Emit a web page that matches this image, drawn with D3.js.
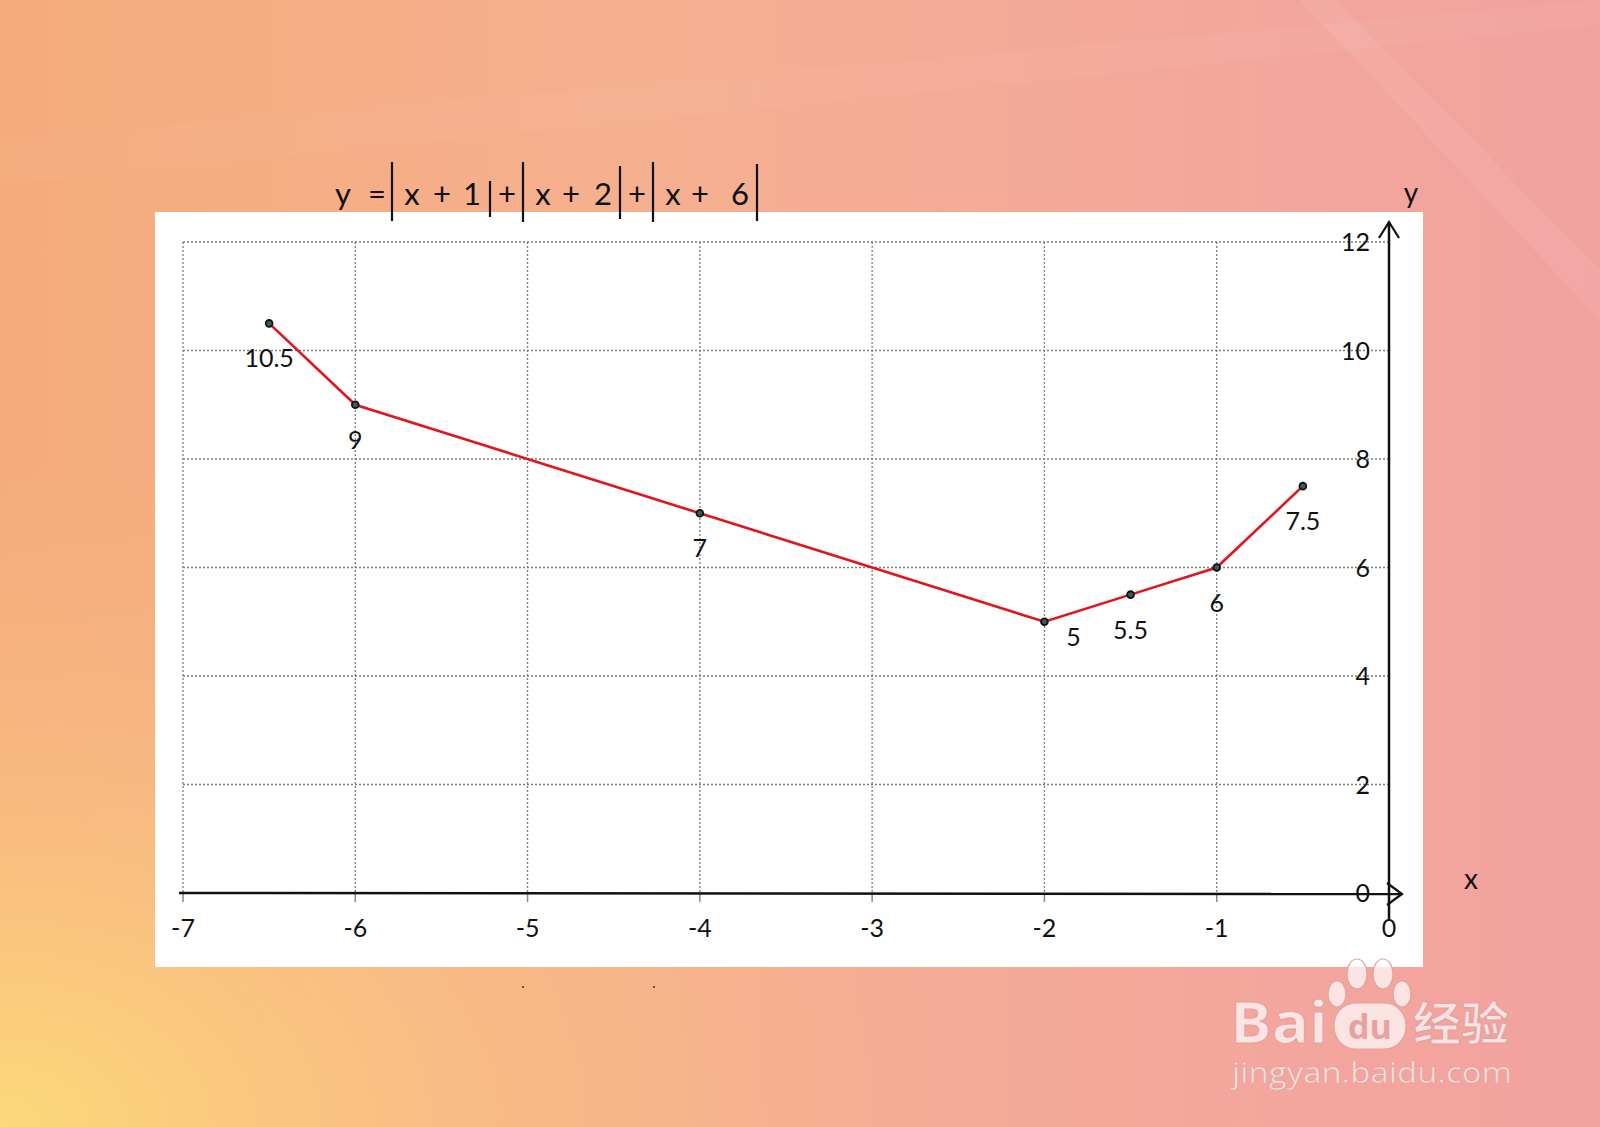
<!DOCTYPE html>
<html>
<head>
<meta charset="utf-8">
<script src="https://cdn.jsdelivr.net/npm/d3@7"></script>
<style>
  html, body { margin: 0; padding: 0; overflow: hidden; }
  svg { display: block; }
</style>
</head>
<body>
<svg id="chart" width="1600" height="1127"></svg>
<script>
// data
const xs = [-6.5, -6, -4, -2, -1.5, -1, -0.5];
const ys = [10.5, 9, 7, 5, 5.5, 6, 7.5];
const pointLabels = ["10.5", "9", "7", "5", "5.5", "6", "7.5"];
const xTicks = [-7, -6, -5, -4, -3, -2, -1, 0];
const yTicks = [0, 2, 4, 6, 8, 10, 12];

const W = 1600, H = 1127;
const svg = d3.select("#chart");
const defs = svg.append("defs");

// ---- background ----
let bg = defs.append("linearGradient").attr("id", "bg")
    .attr("x1", 0).attr("y1", 0).attr("x2", 1).attr("y2", 0);
bg.append("stop").attr("offset", 0).attr("stop-color", "#f5ab7c");
bg.append("stop").attr("offset", 0.4).attr("stop-color", "#f5b08f");
bg.append("stop").attr("offset", 0.75).attr("stop-color", "#f3a79c");
bg.append("stop").attr("offset", 1).attr("stop-color", "#f2a29f");

let glow = defs.append("radialGradient").attr("id", "glow")
    .attr("cx", 0).attr("cy", 1).attr("r", 0.6);
glow.append("stop").attr("offset", 0).attr("stop-color", "#fdd97a").attr("stop-opacity", 1);
glow.append("stop").attr("offset", 0.5).attr("stop-color", "#fac681").attr("stop-opacity", 0.55);
glow.append("stop").attr("offset", 1).attr("stop-color", "#f8b884").attr("stop-opacity", 0);

svg.append("rect").attr("width", W).attr("height", H).attr("fill", "url(#bg)");
svg.append("rect").attr("width", W).attr("height", H).attr("fill", "url(#glow)");

// faint light streaks at the top
svg.append("path").attr("d", "M0,140 L1600,0 L1600,25 L0,185 Z")
    .attr("fill", "#fff").attr("opacity", 0.035);
svg.append("path").attr("d", "M1300,0 L1335,0 L1600,270 L1600,320 Z")
    .attr("fill", "#fff").attr("opacity", 0.07);

// ---- white panel ----
svg.append("rect").attr("x", 155).attr("y", 212).attr("width", 1268).attr("height", 755)
    .attr("fill", "#fff");

// ---- scales ----
const x = d3.scaleLinear().domain([-7, 0]).range([183, 1389]);
const y = d3.scaleLinear().domain([0, 12]).range([893, 242]);

const font = "Lato, 'Open Sans', sans-serif";

// grid
const grid = svg.append("g").attr("stroke", "#7c7c7c").attr("stroke-width", 1.3)
    .attr("stroke-dasharray", "2,2");
grid.selectAll("line.v").data(xTicks.filter(d => d < 0)).join("line")
    .attr("class", "v")
    .attr("x1", d => x(d)).attr("x2", d => x(d))
    .attr("y1", y(12)).attr("y2", y(0));
grid.selectAll("line.h").data(yTicks.filter(d => d > 0)).join("line")
    .attr("class", "h")
    .attr("x1", x(-7)).attr("x2", x(0))
    .attr("y1", d => y(d)).attr("y2", d => y(d));

// x ticks (short gray marks under the axis)
svg.append("g").selectAll("line").data(xTicks.filter(d => d < 0)).join("line")
    .attr("x1", d => x(d)).attr("x2", d => x(d))
    .attr("y1", y(0)).attr("y2", y(0) + 9)
    .attr("stroke", "#888").attr("stroke-width", 1.5);

// axes
const axisCol = "#111";
svg.append("line").attr("x1", x(-7) - 4).attr("x2", x(0) + 13)
    .attr("y1", y(0)).attr("y2", y(0) + 1)
    .attr("stroke", axisCol).attr("stroke-width", 2.5);
svg.append("path")
    .attr("d", `M${x(0) - 2},${y(0) - 10} L${x(0) + 13},${y(0) + 1} L${x(0) - 2},${y(0) + 12}`)
    .attr("fill", "none").attr("stroke", axisCol).attr("stroke-width", 2.2);
svg.append("line").attr("x1", x(0)).attr("x2", x(0))
    .attr("y1", y(12) - 20).attr("y2", y(0) + 26)
    .attr("stroke", axisCol).attr("stroke-width", 2.5);
svg.append("path")
    .attr("d", `M${x(0) - 10},${y(12) - 4} L${x(0)},${y(12) - 20} L${x(0) + 10},${y(12) - 4}`)
    .attr("fill", "none").attr("stroke", axisCol).attr("stroke-width", 2.2);

// tick labels
svg.append("g").selectAll("text").data(xTicks).join("text")
    .attr("x", d => x(d)).attr("y", y(0) + 44)
    .attr("text-anchor", "middle")
    .attr("font-family", font).attr("font-size", 25).attr("fill", "#111")
    .text(d => d);
svg.append("g").selectAll("text").data(yTicks).join("text")
    .attr("x", x(0) - 19).attr("y", d => y(d) + 9)
    .attr("text-anchor", "end")
    .attr("font-family", font).attr("font-size", 25).attr("fill", "#111")
    .text(d => d);

// axis names
svg.append("text").attr("x", 1411).attr("y", 203).attr("text-anchor", "middle")
    .attr("font-family", font).attr("font-size", 28).attr("fill", "#111").text("y");
svg.append("text").attr("x", 1471).attr("y", 889).attr("text-anchor", "middle")
    .attr("font-family", font).attr("font-size", 28).attr("fill", "#111").text("x");

// ---- series ----
const pts = xs.map((d, i) => ({ x: d, y: ys[i], label: pointLabels[i] }));

svg.append("path").datum(pts)
    .attr("d", d3.line().x(d => x(d.x)).y(d => y(d.y)))
    .attr("fill", "none").attr("stroke", "#e3141c").attr("stroke-width", 2.6);

svg.append("g").selectAll("circle").data(pts).join("circle")
    .attr("cx", d => x(d.x)).attr("cy", d => y(d.y)).attr("r", 3.4)
    .attr("fill", "#3a5a5e").attr("stroke", "#111").attr("stroke-width", 1.8);

// labels sit under each point; the minimum one is nudged right
svg.append("g").selectAll("text").data(pts).join("text")
    .attr("x", d => x(d.x) + (d.y === d3.min(ys) ? 29 : 0))
    .attr("y", d => y(d.y) + (d.y === d3.min(ys) ? 24 : 44))
    .attr("text-anchor", "middle")
    .attr("font-family", font).attr("font-size", 25).attr("fill", "#111")
    .text(d => d.label);

// ---- formula title ----
const titleTokens = [
    { t: "y", x: 343 }, { t: "=", x: 377 }, { t: "x", x: 412 }, { t: "+", x: 442 },
    { t: "1", x: 472 }, { t: "+", x: 507 }, { t: "x", x: 543 }, { t: "+", x: 571 },
    { t: "2", x: 603 }, { t: "+", x: 637 }, { t: "x", x: 673 }, { t: "+", x: 700 },
    { t: "6", x: 740 }
];
const titleBars = [
    { x: 392, y1: 162, y2: 221 }, { x: 490, y1: 181, y2: 217 },
    { x: 523, y1: 162, y2: 222 }, { x: 620, y1: 166, y2: 219 },
    { x: 653, y1: 162, y2: 222 }, { x: 757, y1: 164, y2: 221 }
];
svg.append("g").selectAll("text").data(titleTokens).join("text")
    .attr("x", d => d.x).attr("y", 205).attr("text-anchor", "middle")
    .attr("font-family", font).attr("font-size", 31).attr("fill", "#111")
    .text(d => d.t);
svg.append("g").selectAll("line").data(titleBars).join("line")
    .attr("x1", d => d.x).attr("x2", d => d.x)
    .attr("y1", d => d.y1).attr("y2", d => d.y2)
    .attr("stroke", "#111").attr("stroke-width", 2.2);

// two stray specks under the panel
svg.append("circle").attr("cx", 523).attr("cy", 987).attr("r", 1).attr("fill", "#333");
svg.append("circle").attr("cx", 654).attr("cy", 987).attr("r", 1).attr("fill", "#333");

// ---- watermark ----
const wm = svg.append("g").attr("fill", "#fff").attr("fill-opacity", 0.7)
    .attr("stroke", "#e2a3a3").attr("stroke-width", 1.2);
wm.append("text").attr("x", 1230).attr("y", 1043)
    .attr("font-family", "'Open Sans', sans-serif").attr("font-weight", 700)
    .attr("font-size", 58).attr("textLength", 98).attr("lengthAdjust", "spacingAndGlyphs")
    .text("Bai");
wm.append("ellipse").attr("cx", 1357).attr("cy", 974).attr("rx", 10).attr("ry", 15);
wm.append("ellipse").attr("cx", 1383).attr("cy", 974).attr("rx", 10).attr("ry", 15);
wm.append("ellipse").attr("cx", 1337).attr("cy", 994).attr("rx", 9).attr("ry", 13);
wm.append("ellipse").attr("cx", 1402).attr("cy", 994).attr("rx", 9).attr("ry", 13);
wm.append("rect").attr("x", 1334).attr("y", 1003).attr("width", 72).attr("height", 46)
    .attr("rx", 22);
svg.append("text").attr("x", 1370).attr("y", 1039).attr("text-anchor", "middle")
    .attr("font-family", "'Open Sans', sans-serif").attr("font-weight", 700)
    .attr("font-size", 34).attr("fill", "#eaa0a0").text("du");
wm.append("text").attr("x", 1413).attr("y", 1040)
    .attr("font-family", "'Noto Sans CJK SC', sans-serif").attr("font-weight", 700)
    .attr("font-size", 46).attr("textLength", 96).attr("lengthAdjust", "spacingAndGlyphs")
    .text("经验");
wm.append("text").attr("x", 1232).attr("y", 1083)
    .attr("font-family", "'Open Sans', sans-serif")
    .attr("font-size", 29).attr("textLength", 280).attr("lengthAdjust", "spacingAndGlyphs")
    .attr("stroke-width", 0.6)
    .text("jingyan.baidu.com");
</script>
</body>
</html>
